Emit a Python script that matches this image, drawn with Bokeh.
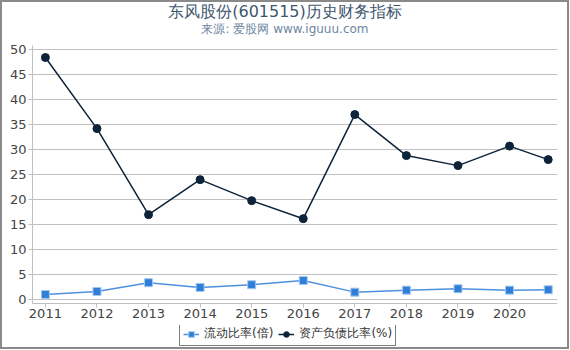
from bokeh.plotting import figure
from bokeh.layouts import column
from bokeh.models import (Legend, LegendItem, FixedTicker, Range1d)
from bokeh.core.properties import value
from bokeh.embed import file_html
from bokeh.resources import INLINE

# ---- data ----
years = [2011, 2012, 2013, 2014, 2015, 2016, 2017, 2018, 2019, 2020, 2020.75]
tick_years = [2011, 2012, 2013, 2014, 2015, 2016, 2017, 2018, 2019, 2020]
y_ticks = [0, 5, 10, 15, 20, 25, 30, 35, 40, 45, 50]
current_ratio = [1.06, 1.66, 3.4, 2.46, 3.0, 3.85, 1.52, 1.92, 2.2, 1.92, 2.0]
debt_ratio = [48.4, 34.2, 17.0, 24.0, 19.8, 16.2, 37.0, 28.8, 26.8, 30.7, 28.0]
series_names = ["流动比率(倍)", "资产负债比率(%)"]
title_text = "东风股份(601515)历史财务指标"
subtitle_text = "来源: 爱股网 www.iguuu.com"

FONT = "DejaVu Sans"
W = 565
LEFT = 30
RIGHT = 10
FW = W - LEFT - RIGHT  # frame width shared by the aligned figures
c1 = "#2f7ed8"
c2 = "#0d233a"


def bare(fig):
    fig.grid.visible = False
    fig.outline_line_color = None
    fig.background_fill_color = "white"
    fig.border_fill_color = "white"


# ---- header (titles) ----
HH = 35
head = figure(width=W, height=HH, output_backend="svg", toolbar_location=None,
              x_range=Range1d(0, FW), y_range=Range1d(HH, 0),
              x_axis_location=None, y_axis_location=None, min_border=0,
              min_border_left=LEFT, min_border_right=RIGHT)
bare(head)
head.text(x=[W / 2 - LEFT], y=[9], text=[title_text], text_align="center",
          text_baseline="middle", text_font=value(FONT),
          text_font_size="16px", text_color="#3E576F")
head.text(x=[W / 2 - LEFT], y=[26], text=[subtitle_text], text_align="center",
          text_baseline="middle", text_font=value(FONT),
          text_font_size="12px", text_color="#6D869F")

# ---- main chart ----
p = figure(width=W, height=288, output_backend="svg", toolbar_location=None,
           x_range=Range1d(2010.75, 2020.93), y_range=Range1d(-0.75, 50.8),
           min_border_left=LEFT, min_border_right=RIGHT, min_border_top=8,
           min_border_bottom=22)
p.outline_line_color = None
p.background_fill_color = "white"
p.border_fill_color = "white"
p.xgrid.grid_line_color = None
p.ygrid.grid_line_color = "#c0c0c0"
p.ygrid.ticker = FixedTicker(ticks=y_ticks)
p.yaxis.ticker = FixedTicker(ticks=y_ticks)
p.xaxis.ticker = FixedTicker(ticks=tick_years)
for ax in (p.xaxis[0], p.yaxis[0]):
    ax.axis_line_color = "#c0c0c0"
    ax.major_tick_line_color = "#c0c0c0"
    ax.minor_tick_line_color = None
    ax.major_tick_in = 0
    ax.major_tick_out = 4
    ax.major_label_text_font = FONT
    ax.major_label_text_font_size = "13px"
    ax.major_label_text_color = "#444444"
p.yaxis.major_label_standoff = 2
p.xaxis.major_label_standoff = 1

p.line(years, current_ratio, line_color=c1, line_width=1.5, line_alpha=0.85)
p.scatter(years, current_ratio, marker="square", size=8, fill_color=c1,
          line_color="#a6c8ef", line_width=1)
p.line(years, debt_ratio, line_color=c2, line_width=1.5)
p.scatter(years, debt_ratio, marker="circle", size=8, fill_color=c2,
          line_color=c2)

# ---- legend strip (swatch renderers sit outside the visible range) ----
LH = 22
leg = figure(width=W, height=LH, output_backend="svg", toolbar_location=None,
             x_range=Range1d(0, 1), y_range=Range1d(0, 1),
             x_axis_location=None, y_axis_location=None, min_border=0,
             min_border_left=LEFT, min_border_right=RIGHT)
bare(leg)
off = [5, 6]
gl1 = leg.line(off, off, line_color=c1, line_width=1.5, line_alpha=0.85)
gs1 = leg.scatter(off, off, marker="square", size=7, fill_color=c1,
                  line_color="#a6c8ef", line_width=1)
gl2 = leg.line(off, off, line_color=c2, line_width=1.5)
gs2 = leg.scatter(off, off, marker="circle", size=7, fill_color=c2,
                  line_color=c2)
legend = Legend(items=[LegendItem(label=series_names[0], renderers=[gl1, gs1]),
                       LegendItem(label=series_names[1], renderers=[gl2, gs2])],
                orientation="horizontal", location=(177 - LEFT, 1),
                border_line_color="black", border_line_width=1,
                background_fill_color="white",
                label_text_font=FONT, label_text_font_size="12px",
                label_text_color="#333333", glyph_width=16, glyph_height=14,
                label_height=14, padding=3, spacing=5, label_standoff=5,
                margin=0)
leg.add_layout(legend, "center")

layout = column(head, p, leg, spacing=0,
                styles={"border": "2px solid #8a8a8a", "background": "white"})

open("out.html", "w").write(file_html(layout, INLINE))
